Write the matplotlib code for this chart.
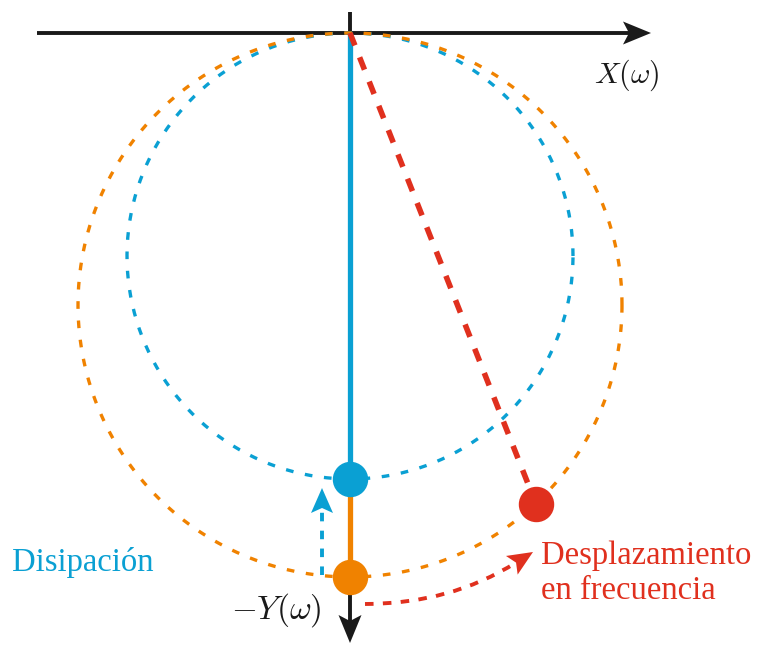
import matplotlib.pyplot as plt
import numpy as np
from matplotlib.patches import PathPatch, Polygon
from matplotlib.path import Path

plt.rcParams["mathtext.fontset"] = "cm"

BLUE = "#0aa0d3"
ORANGE = "#f08200"
RED = "#e0301e"
BLACK = "#1a1a1a"

# circle radii (origin at the crossing of the axes, circles hang below it)
r_diss = 223
r_full = 272
shift_angle_deg = -46.9

# axis extents
x_axis = [-313, 301]
y_axis = [21, -610]

labels = {
    "x": r"$X(\omega)$",
    "y": r"$-Y(\omega)$",
    "diss": "Disipación",
    "shift": "Desplazamiento\nen frecuencia",
}


def stealth_head(ax, tip, direction, color, length=27, half_width=11.5, notch=6, zorder=5):
    d = np.asarray(direction, float)
    d = d / np.hypot(*d)
    n = np.array([-d[1], d[0]])
    tip = np.asarray(tip, float)
    base = tip - length * d
    pts = [tip, base + half_width * n, base + notch * d, base - half_width * n]
    ax.add_patch(Polygon(pts, closed=True, color=color, lw=0, zorder=zorder))
    return base + notch * d


fig = plt.figure(figsize=(7.58, 6.45), dpi=100)
ax = fig.add_axes([0, 0, 1, 1])
ax.set_xlim(-350, 408)
ax.set_ylim(-612, 33)
ax.set_aspect("equal")
ax.axis("off")

# axes arrows
end = stealth_head(ax, (x_axis[1], 0), (1, 0), BLACK, length=28)
ax.plot([x_axis[0], end[0]], [0, 0], color=BLACK, lw=2.8, solid_capstyle="butt", zorder=1)
ax.plot([0, 0], [y_axis[0], 0], color=BLACK, lw=2.8, solid_capstyle="butt", zorder=1)
end = stealth_head(ax, (0, y_axis[1]), (0, -1), BLACK, length=28)
ax.plot([0, 0], [-2 * r_full, end[1]], color=BLACK, lw=2.8, solid_capstyle="butt", zorder=1)

t = np.linspace(0, 2 * np.pi, 500)
ax.plot(r_diss * np.cos(t), -r_diss + r_diss * np.sin(t), color=BLUE, lw=2.4,
        dashes=(2.3, 3.5), zorder=2)
ax.plot(r_full * np.cos(t), -r_full + r_full * np.sin(t), color=ORANGE, lw=2.4,
        dashes=(2.3, 3.5), zorder=2)

# solid segments along the vertical axis
ax.plot([0, 0], [0, -2 * r_diss], color=BLUE, lw=3.8, solid_capstyle="butt", zorder=3)
ax.plot([0, 0], [-2 * r_diss, -2 * r_full], color=ORANGE, lw=3.8, solid_capstyle="butt", zorder=3)

# shifted point on the outer circle
a = np.deg2rad(shift_angle_deg)
px = r_full * np.cos(a)
py = -r_full + r_full * np.sin(a)
ax.plot([0, px], [0, py], color=RED, lw=4.0, dashes=(2.4, 2.3), zorder=3)

ax.plot(0, -2 * r_diss, "o", color=BLUE, ms=24.5, zorder=4)
ax.plot(0, -2 * r_full, "o", color=ORANGE, ms=24.5, zorder=4)
ax.plot(px, py, "o", color=RED, ms=24.5, zorder=4)

# dissipation arrow
diss_start = (-28, -542)
diss_tip = (-28, -455)
end = stealth_head(ax, diss_tip, (0, 1), BLUE, length=25, half_width=11, notch=5)
ax.plot([diss_start[0], end[0]], [diss_start[1], end[1]], color=BLUE, lw=2.8,
        dashes=(2.2, 2.4), zorder=3)

# frequency shift arrow (quadratic curve)
shift_start = np.array([15, -571])
shift_ctrl = np.array([100, -571])
shift_tip = np.array([183, -519])
tangent = shift_tip - shift_ctrl
end = stealth_head(ax, shift_tip, tangent, RED, length=25, half_width=11, notch=5)
curve = Path([shift_start, shift_ctrl, end], [Path.MOVETO, Path.CURVE3, Path.CURVE3])
ax.add_patch(PathPatch(curve, fill=False, edgecolor=RED, lw=2.8,
                       linestyle=(0, (2.2, 2.4)), zorder=3))

ax.text(310, -42, labels["x"], fontsize=21.5, color=BLACK, ha="right", va="center")
ax.text(-28, -577, labels["y"], fontsize=24, color=BLACK, ha="right", va="center")
ax.text(-338, -529, labels["diss"], fontsize=23.5, color=BLUE, ha="left", va="center",
        family="Liberation Serif")
ax.text(191, -540, labels["shift"], fontsize=23.5, color=RED, ha="left", va="center",
        family="Liberation Serif", linespacing=1.2)

fig.savefig("out.png", dpi=100)
